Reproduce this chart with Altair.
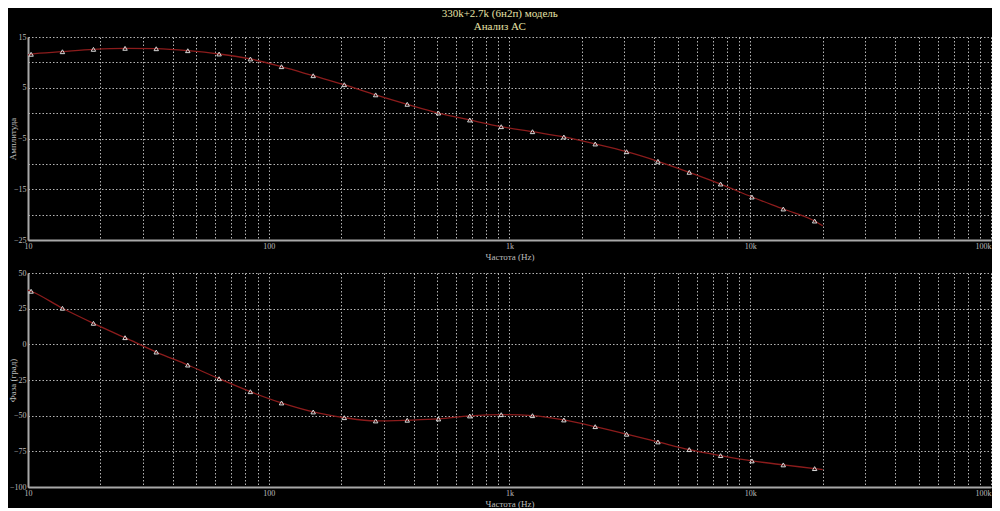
import altair as alt
import pandas as pd

# Marker (sample) frequencies in Hz
marker_freq = [10.3, 13.9, 18.7, 25.3, 34.1, 46.1, 62.2, 83.9, 113, 153, 206, 278, 376,
               507, 684, 924, 1246, 1682, 2270, 3064, 4135, 5580, 7531, 10164, 13717, 18512]
# Amplitude (dB) at the markers
amp_db = [11.6, 12.1, 12.57, 12.77, 12.69, 12.3, 11.65, 10.67, 9.15, 7.37, 5.6, 3.6, 1.74,
          0.02, -1.35, -2.67, -3.66, -4.70, -6.08, -7.60, -9.49, -11.66, -13.97, -16.53, -18.89, -21.26]
# Phase (degrees) at the markers
phase_deg = [37.2, 25.3, 14.75, 4.66, -5.4, -14.5, -24.1, -33.2, -41.1, -47.4, -51.4, -53.7, -53.2,
             -52.3, -50.2, -49.3, -50.0, -53.0, -57.7, -63.0, -68.4, -73.8, -78.0, -81.7, -84.5, -87.1]

# Curve end points
curve_start = {"freq": 10, "amp": 11.45, "phase": 38.0}
curve_end = {"freq": 20000, "amp": -22.2, "phase": -87.8}

x_tick_values = [10, 20, 30, 40, 50, 60, 70, 80, 90,
                 100, 200, 300, 400, 500, 600, 700, 800, 900,
                 1000, 2000, 3000, 4000, 5000, 6000, 7000, 8000, 9000,
                 10000, 20000, 30000, 40000, 50000, 60000, 70000, 80000, 90000, 100000]
amp_grid = [15, 10, 5, 0, -5, -10, -15, -20, -25]
amp_labels = [15, 5, -5, -15, -25]
phase_grid = [50, 25, 0, -25, -50, -75, -100]

title_lines = ["330k+2.7k (6н2п) модель", "Анализ АС"]
x_title = "Частота (Hz)"

markers = pd.DataFrame({"freq": marker_freq, "amp": amp_db, "phase": phase_deg})
curve = pd.concat([pd.DataFrame([curve_start]), markers, pd.DataFrame([curve_end])], ignore_index=True)

FONT = "Liberation Serif"
LABEL_C = "#bdbdbd"
GRID_C = "#c8c8c8"
W = 963

x_label_expr = ("datum.value == 10 ? '10' : datum.value == 100 ? '100' : datum.value == 1000 ? '1k' : "
                "datum.value == 10000 ? '10k' : datum.value == 100000 ? '100k' : ''")


def xenc():
    return alt.X("freq:Q",
                 scale=alt.Scale(type="log", domain=[10, 100000], nice=False),
                 axis=alt.Axis(values=x_tick_values, labelExpr=x_label_expr, title=x_title,
                               labelOverlap=False, labelFlush=False, tickSize=0,
                               labelAlign=alt.ExprRef("datum.value >= 100000 ? 'right' : 'center'"),
                               labelPadding=2, titlePadding=2))


def panel(col, title, domain, grid_vals, label_vals, height):
    lab = "[" + ",".join(str(v) for v in label_vals) + "]"
    y = alt.Y(f"{col}:Q", scale=alt.Scale(domain=domain, nice=False, zero=False),
              axis=alt.Axis(values=grid_vals, title=title, tickSize=0, labelPadding=2,
                            labelExpr=f"indexof({lab}, datum.value) >= 0 ? datum.label : ''",
                            titleX=-16, titleY=height / 2, titleAngle=270,
                            titleAlign="center", titleBaseline="middle"))
    line = alt.Chart(curve).mark_line(interpolate="monotone", color="#8c1c1c",
                                      strokeWidth=1.3).encode(x=xenc(), y=y)
    pts = alt.Chart(markers).mark_point(shape="triangle-up", filled=False, size=20,
                                        color="#d8d8d8", strokeWidth=1, opacity=1).encode(x=xenc(), y=y)
    return alt.layer(line, pts).properties(width=W, height=height)


top = panel("amp", "Амплитуда", [-25, 15], amp_grid, amp_labels, 203)
bottom = panel("phase", "Фаза (град)", [-100, 50], phase_grid, phase_grid, 214)

chart = alt.vconcat(top, bottom, spacing=33, bounds="flush").properties(
    title=alt.TitleParams(text=title_lines, font=FONT, fontSize=11, fontWeight="normal",
                          color="#e6e2a6", anchor="middle", lineHeight=13, offset=1),
    background="#000000",
    padding={"left": 0, "top": 0, "right": 0, "bottom": 0},
).configure_view(stroke=None).configure_axis(
    labelFont=FONT, labelFontSize=8, labelColor=LABEL_C,
    titleFont=FONT, titleFontSize=9, titleFontWeight="normal", titleColor=LABEL_C,
    domainColor="#a8a8a8", domainWidth=2,
    gridColor=GRID_C, gridDash=[1.5, 2], gridWidth=1, gridOpacity=0.9,
)

chart.save("out.html", embed_options={"renderer": "svg", "actions": False})
